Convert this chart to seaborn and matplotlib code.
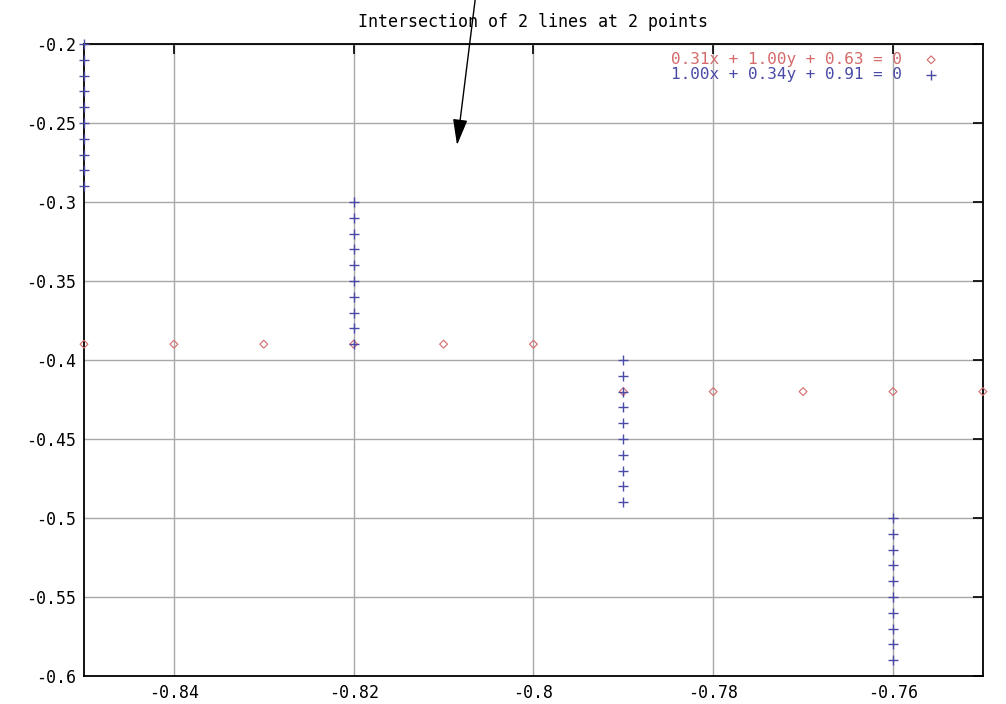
import numpy as np
import pandas as pd
import matplotlib
matplotlib.use('Agg')
import matplotlib.pyplot as plt
import seaborn as sns

# line 1 samples (red diamonds)
red_x = [-0.85, -0.84, -0.83, -0.82, -0.81, -0.80, -0.79, -0.78, -0.77, -0.76, -0.75]
red_y = [-0.39, -0.39, -0.39, -0.39, -0.39, -0.39, -0.42, -0.42, -0.42, -0.42, -0.42]

# line 2 samples (blue pluses)
blue_x = [-0.85] * 10 + [-0.82] * 10 + [-0.79] * 10 + [-0.76] * 10
blue_y = [-0.20, -0.21, -0.22, -0.23, -0.24, -0.25, -0.26, -0.27, -0.28, -0.29,
          -0.30, -0.31, -0.32, -0.33, -0.34, -0.35, -0.36, -0.37, -0.38, -0.39,
          -0.40, -0.41, -0.42, -0.43, -0.44, -0.45, -0.46, -0.47, -0.48, -0.49,
          -0.50, -0.51, -0.52, -0.53, -0.54, -0.55, -0.56, -0.57, -0.58, -0.59]

label_red = '0.31x + 1.00y + 0.63 = 0'
label_blue = '1.00x + 0.34y + 0.91 = 0'
title = 'Intersection of 2 lines at 2 points'

x_ticks = [-0.84, -0.82, -0.80, -0.78, -0.76]
x_ticklabels = ['-0.84', '-0.82', '-0.8', '-0.78', '-0.76']
y_ticks = [-0.2, -0.25, -0.3, -0.35, -0.4, -0.45, -0.5, -0.55, -0.6]
y_ticklabels = ['-0.2', '-0.25', '-0.3', '-0.35', '-0.4', '-0.45', '-0.5', '-0.55', '-0.6']

sns.set_style('white')
plt.rcParams['font.family'] = ['DejaVu Sans Mono']

df_red = pd.DataFrame({'x': red_x, 'y': red_y})
df_blue = pd.DataFrame({'x': blue_x, 'y': blue_y})

red = '#d46a6a'
blue = '#4a4aa8'

fig = plt.figure(figsize=(10.06, 7.04), dpi=100)
ax = fig.add_axes([0.0835, 0.0398, 0.8935, 0.8977])

sns.scatterplot(data=df_red, x='x', y='y', ax=ax, marker='D', s=16,
                facecolors='none', edgecolor=red, linewidth=0.8,
                label=label_red, clip_on=False, zorder=3)
sns.scatterplot(data=df_blue, x='x', y='y', ax=ax, marker='+', s=45,
                color=blue, linewidth=1.0, label=label_blue,
                clip_on=False, zorder=4)

ax.set_xlim(-0.85, -0.75)
ax.set_ylim(-0.6, -0.2)
ax.set_xticks(x_ticks)
ax.set_xticklabels(x_ticklabels)
ax.set_yticks(y_ticks)
ax.set_yticklabels(y_ticklabels)
ax.set_xlabel('')
ax.set_ylabel('')
ax.grid(True, color='#a8a8a8', linewidth=1.0)
ax.tick_params(direction='in', length=7, width=1.2, top=True, right=True,
               labelsize=12, colors='black', pad=6)
for sp in ax.spines.values():
    sp.set_visible(True)
    sp.set_color('black')
    sp.set_linewidth(1.3)

ax.set_title(title, fontsize=12, pad=12, color='black')

leg = ax.legend(loc='upper right', bbox_to_anchor=(0.962, 1.0), frameon=False,
                markerfirst=False, fontsize=11.5, handletextpad=1.2,
                borderaxespad=0.3, labelspacing=0.0, borderpad=0.2,
                handlelength=1.2)
leg.get_texts()[0].set_color(red)
leg.get_texts()[1].set_color(blue)

ax.annotate('', xy=(-0.8085, -0.264), xycoords='data',
            xytext=(476 / 1006, 1.01), textcoords='figure fraction',
            arrowprops=dict(arrowstyle='-|>,head_length=1.6,head_width=0.45',
                            color='black', lw=1.0, shrinkA=0, shrinkB=0),
            annotation_clip=False)

fig.savefig('out.png', dpi=100)
